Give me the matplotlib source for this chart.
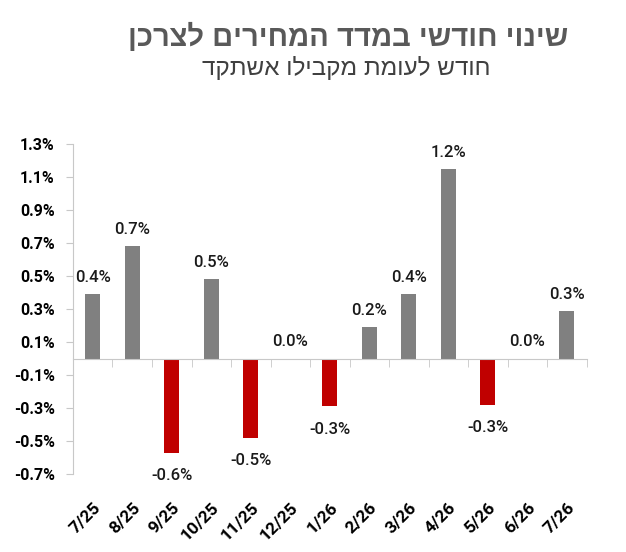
import matplotlib
matplotlib.use("Agg")
import matplotlib.pyplot as plt
import numpy as np

categories = ["7/25", "8/25", "9/25", "10/25", "11/25", "12/25", "1/26",
              "2/26", "3/26", "4/26", "5/26", "6/26", "7/26"]
values = [0.39, 0.68, -0.57, 0.48, -0.48, 0.0, -0.29,
          0.19, 0.39, 1.15, -0.28, 0.0, 0.29]
labels = ["0.4%", "0.7%", "-0.6%", "0.5%", "-0.5%", "0.0%", "-0.3%",
          "0.2%", "0.4%", "1.2%", "-0.3%", "0.0%", "0.3%"]
yticks = [-0.7, -0.5, -0.3, -0.1, 0.1, 0.3, 0.5, 0.7, 0.9, 1.1, 1.3]
title = "שינוי חודשי במדד המחירים לצרכן"
subtitle = "חודש לעומת מקבילו אשתקד"

def rtl(s):
    return s[::-1]

plt.rcParams["font.family"] = ["Liberation Sans", "DejaVu Sans"]
NUM = ["Roboto", "Liberation Sans", "DejaVu Sans"]

fig = plt.figure(figsize=(6.26, 5.52), dpi=100)
ax = fig.add_axes([0.1166, 0.1413, 0.8204, 0.5977])

x = np.arange(len(categories))
colors = ["#808080" if v >= 0 else "#C00000" for v in values]
ax.bar(x, values, width=0.38, color=colors, zorder=2)

ax.set_xlim(-0.5, len(categories) - 0.5)
ax.set_ylim(-0.7, 1.3)

for xi, v, lab in zip(x, values, labels):
    if v >= 0:
        ax.annotate(lab, (xi, v), xytext=(0, 6.5), textcoords="offset points",
                    ha="center", va="bottom", fontsize=12, color="#1a1a1a",
                    family=NUM, fontweight="medium")
    else:
        ax.annotate(lab, (xi, v), xytext=(0, -11), textcoords="offset points",
                    ha="center", va="top", fontsize=12, color="#1a1a1a",
                    family=NUM, fontweight="medium")

axis_col = "#C8C8C8"
for s in ["top", "right"]:
    ax.spines[s].set_visible(False)
ax.spines["left"].set_color(axis_col)
ax.spines["bottom"].set_color(axis_col)
ax.spines["bottom"].set_position(("data", 0))

ax.set_yticks(yticks)
ax.set_yticklabels([f"{t:.1f}%" for t in yticks], fontsize=11.5,
                   fontweight="bold", family=NUM)
ax.tick_params(axis="y", length=5, color=axis_col, pad=8)

ax.set_xticks(x)
ax.set_xticklabels(categories, rotation=45, ha="right", rotation_mode="anchor",
                   fontsize=12.5, fontweight="bold", family=NUM)
ax.set_xticks(np.arange(len(categories) + 1) - 0.5, minor=True)
ax.tick_params(axis="x", which="major", length=0, pad=102)
ax.tick_params(axis="x", which="minor", length=6, color=axis_col)

fig.text(0.556, 0.933, rtl(title), ha="center", va="center", fontsize=21,
         fontweight="bold", color="#595959")
fig.text(0.553, 0.877, rtl(subtitle), ha="center", va="center", fontsize=17.5,
         color="#404040")

fig.savefig("out.png", dpi=100)
